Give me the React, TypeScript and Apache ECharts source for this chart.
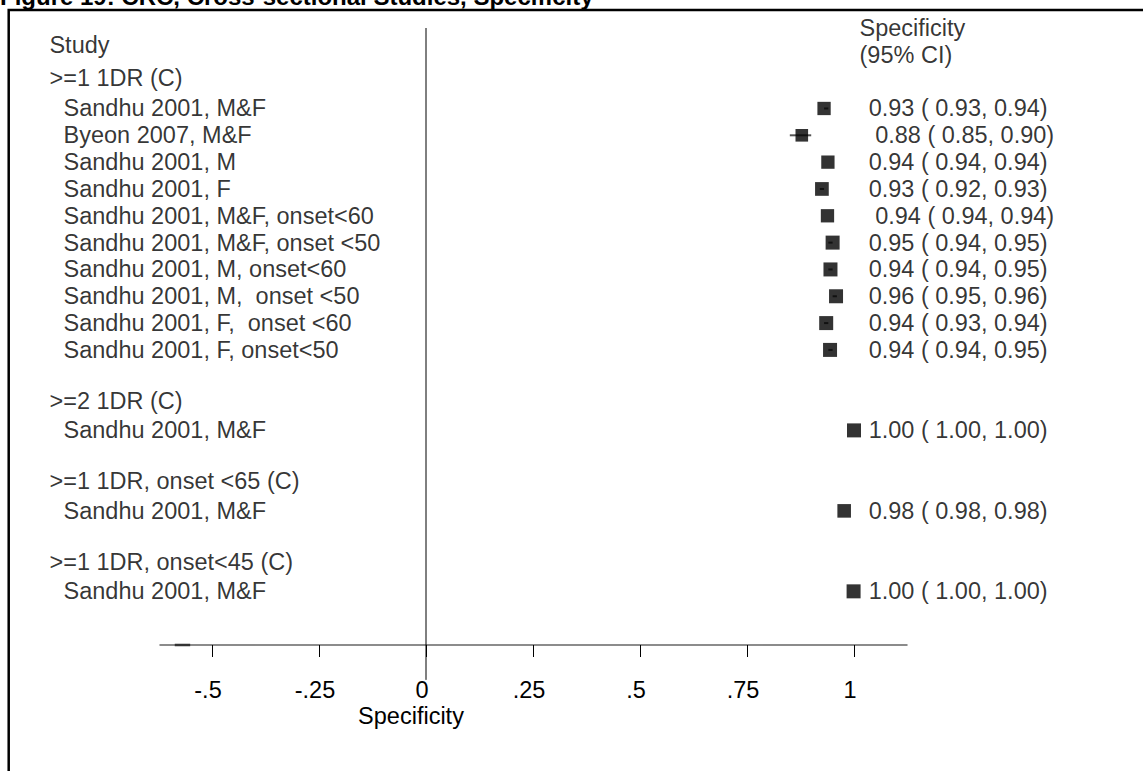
import React, { useEffect, useRef } from 'react';
import * as echarts from 'echarts';

const FONT = '"Liberation Sans", Arial, Helvetica, sans-serif';

const titleText = 'Figure 19: CRC, Cross-sectional Studies, Specificity';
const axisTitle = 'Specificity';
const studyHeader = 'Study';
const estHeader = ['Specificity', '(95% CI)'];

const groupLabels = ['>=1 1DR (C)', '>=2 1DR (C)', '>=1 1DR, onset <65 (C)', '>=1 1DR, onset<45 (C)'];
const groupRows = [-1.15, 10.9, 13.9, 16.9];

const studyLabels = [
  'Sandhu 2001, M&F',
  'Byeon 2007, M&F',
  'Sandhu 2001, M',
  'Sandhu 2001, F',
  'Sandhu 2001, M&F, onset<60',
  'Sandhu 2001, M&F, onset <50',
  'Sandhu 2001, M, onset<60',
  'Sandhu 2001, M,  onset <50',
  'Sandhu 2001, F,  onset <60',
  'Sandhu 2001, F, onset<50',
  'Sandhu 2001, M&F',
  'Sandhu 2001, M&F',
  'Sandhu 2001, M&F',
];
const studyRows = [0, 1, 2, 3, 4, 5, 6, 7, 8, 9, 12, 15, 18];

// plotted point estimates
const estimates = [0.93, 0.878, 0.939, 0.925, 0.938, 0.95, 0.945, 0.958, 0.935, 0.944, 1.0, 0.977, 0.999];
// printed values
const printedEst = [0.93, 0.88, 0.94, 0.93, 0.94, 0.95, 0.94, 0.96, 0.94, 0.94, 1.0, 0.98, 1.0];
const ciLow = [0.93, 0.85, 0.94, 0.92, 0.94, 0.94, 0.94, 0.95, 0.93, 0.94, 1.0, 0.98, 1.0];
const ciHigh = [0.94, 0.9, 0.94, 0.93, 0.94, 0.95, 0.95, 0.96, 0.94, 0.95, 1.0, 0.98, 1.0];
const boxWeights = [0.95, 0.9, 0.95, 0.98, 0.95, 1, 1, 1, 1, 1, 1, 0.97, 1];
// rows whose printed text carries a leading blank in the original output
const leadingBlank = [false, true, false, false, true, false, false, false, false, false, false, false, false];

const xTicks = [-0.5, -0.25, 0, 0.25, 0.5, 0.75, 1];

const X_MIN = -0.6215;
const X_MAX = 1.1238;
const ROW_MIN = -3;
const ROW_MAX = 20;

const LEFT_HEADER_X = -0.881;
const LEFT_STUDY_X = -0.848;
const RIGHT_TEXT_X = 1.033;
const RIGHT_HEADER_X = 1.0117;

const fmt = (v: number) => v.toFixed(2);
const tickFmt = (v: number) => (v === 0 ? '0' : v === 1 ? '1' : String(v).replace('0.', '.'));

const textLabel = (size = 23.5) => ({
  show: true,
  position: 'right' as const,
  distance: 0,
  color: '#000',
  fontSize: size,
  lineHeight: 20,
  fontFamily: FONT,
  verticalAlign: 'middle' as const,
  formatter: (p: any) => p.data.name,
});

export default function App() {
  const ref = useRef<HTMLDivElement>(null);
  useEffect(() => {
    if (!ref.current) return;
    const chart = echarts.init(ref.current, null, { renderer: 'svg' });
    const textItem = (x: number, y: number, name: string) => ({ value: [x, y], name });
    const option: any = {
      animation: false,
      backgroundColor: '#fff',
      grid: { left: 160, right: 236, top: 28, bottom: 126 },
      xAxis: {
        type: 'value',
        min: X_MIN,
        max: X_MAX,
        splitLine: { show: false },
        axisLine: { show: true, onZero: false, lineStyle: { color: '#666', width: 1.5 } },
        axisTick: { show: true, customValues: xTicks, length: 12, lineStyle: { color: '#000', width: 1 } },
        axisLabel: {
          show: true,
          customValues: xTicks,
          formatter: tickFmt,
          margin: 36,
          color: '#000',
          fontSize: 23.5,
          lineHeight: 18,
          padding: [0, 8, 0, 0],
          fontFamily: FONT,
        },
      },
      yAxis: { type: 'value', inverse: true, min: ROW_MIN, max: ROW_MAX, show: false },
      graphic: [
        {
          type: 'polyline',
          shape: { points: [[8.7, 771], [8.7, 10], [1143, 10]] },
          style: { stroke: '#000', lineWidth: 2.5, fill: 'none' },
        },
        {
          type: 'text',
          x: 0,
          y: -4,
          z: -1,
          style: { text: titleText, fill: '#000', font: `bold 24px ${FONT}`, align: 'left', verticalAlign: 'middle' },
        },
        {
          type: 'text',
          x: 411,
          y: 716,
          style: {
            text: axisTitle,
            fill: '#000',
            font: `23.5px ${FONT}`,
            lineHeight: 18,
            align: 'center',
            verticalAlign: 'middle',
          },
        },
      ],
      series: [
        {
          type: 'line',
          data: [[0, ROW_MIN], [0, 21.3]],
          symbol: 'none',
          clip: false,
          silent: true,
          lineStyle: { color: '#000', width: 1 },
        },
        {
          type: 'line',
          data: [[-0.587, ROW_MAX], [-0.551, ROW_MAX]],
          symbol: 'none',
          clip: false,
          silent: true,
          lineStyle: { color: '#333', width: 2.5 },
        },
        {
          type: 'custom',
          clip: false,
          data: studyRows.map((r, i) => [ciLow[i], ciHigh[i], r]),
          renderItem: (params: any, api: any) => {
            const a = api.coord([api.value(0), api.value(2)]);
            const b = api.coord([api.value(1), api.value(2)]);
            return {
              type: 'line',
              shape: { x1: a[0], y1: a[1], x2: b[0], y2: b[1] },
              style: { stroke: '#555', lineWidth: 2 },
            };
          },
          z: 2,
        },
        {
          type: 'scatter',
          symbol: 'rect',
          clip: false,
          z: 3,
          itemStyle: { color: '#000' },
          data: studyRows.map((r, i) => ({ value: [estimates[i], r], symbolSize: 14 * boxWeights[i] })),
        },
        {
          type: 'scatter',
          symbolSize: 1,
          clip: false,
          itemStyle: { color: 'rgba(0,0,0,0)' },
          label: textLabel(),
          data: studyRows.map((r, i) =>
            textItem(
              RIGHT_TEXT_X,
              r,
              `${leadingBlank[i] ? ' ' : ''}${fmt(printedEst[i])} ( ${fmt(ciLow[i])}, ${fmt(ciHigh[i])})`
            )
          ),
        },
        {
          type: 'scatter',
          symbolSize: 1,
          clip: false,
          itemStyle: { color: 'rgba(0,0,0,0)' },
          label: textLabel(),
          data: [
            ...studyRows.map((r, i) => textItem(LEFT_STUDY_X, r, studyLabels[i])),
            ...groupRows.map((r, i) => textItem(LEFT_HEADER_X, r, groupLabels[i])),
            textItem(LEFT_HEADER_X, -2.37, studyHeader),
            textItem(RIGHT_HEADER_X, -3, estHeader[0]),
            textItem(RIGHT_HEADER_X, -2, estHeader[1]),
          ],
        },
      ],
    };
    chart.setOption(option);
    return () => chart.dispose();
  }, []);
  return (
    <div
      ref={ref}
      style={{ position: 'fixed', left: 0, top: 0, width: 1143, height: 771, background: '#fff' }}
    />
  );
}
